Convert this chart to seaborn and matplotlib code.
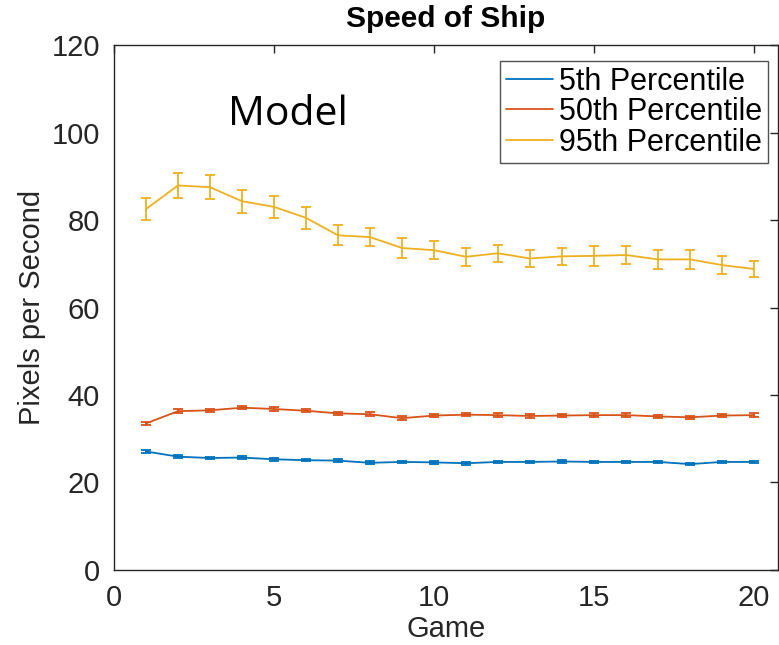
import matplotlib
matplotlib.use("Agg")
import matplotlib.pyplot as plt
import numpy as np
import pandas as pd
import seaborn as sns

games = list(range(1, 21))

p5 = [27.1, 25.9, 25.6, 25.7, 25.3, 25.1, 25.0, 24.5, 24.7, 24.6,
      24.4, 24.7, 24.7, 24.8, 24.7, 24.7, 24.7, 24.2, 24.7, 24.7]
p5_err = [0.3] * 20

p50 = [33.5, 36.3, 36.5, 37.1, 36.8, 36.4, 35.8, 35.6, 34.7, 35.3,
       35.5, 35.4, 35.2, 35.3, 35.4, 35.4, 35.1, 34.9, 35.3, 35.4]
p50_err = [0.4] * 20

p95 = [82.5, 87.9, 87.5, 84.3, 83.0, 80.5, 76.5, 76.1, 73.6, 73.1,
       71.6, 72.4, 71.2, 71.7, 71.8, 72.0, 71.0, 71.0, 69.7, 68.8]
p95_err = [2.6, 2.9, 2.8, 2.6, 2.6, 2.5, 2.3, 2.15, 2.2, 2.1,
           2.1, 2.0, 2.0, 2.0, 2.2, 2.1, 2.1, 2.1, 2.1, 1.9]

labels = ["5th Percentile", "50th Percentile", "95th Percentile"]
colors = ["#0072BD", "#D95319", "#EDB120"]

df = pd.concat([
    pd.DataFrame({"Game": games, "Speed": v, "err": e, "Series": lab})
    for v, e, lab in zip([p5, p50, p95], [p5_err, p50_err, p95_err], labels)
])

sns.set_style("white")
plt.rcParams["font.family"] = ["Liberation Sans", "DejaVu Sans"]

fig = plt.figure(figsize=(7.79, 6.45), dpi=100)
ax = fig.add_axes([0.1463, 0.1163, 0.8524, 0.8139])

sns.lineplot(data=df, x="Game", y="Speed", hue="Series", hue_order=labels,
             palette=colors, linewidth=1.3, ax=ax, errorbar=None)

for lab, col in zip(labels, colors):
    sub = df[df["Series"] == lab]
    ax.errorbar(sub["Game"], sub["Speed"], yerr=sub["err"], fmt="none",
                ecolor=col, elinewidth=1.3, capsize=3.6, capthick=1.3)

ax.set_xlim(0, 20.75)
ax.set_ylim(0, 120)
ax.set_xticks([0, 5, 10, 15, 20])
ax.set_yticks(range(0, 121, 20))
ax.tick_params(direction="in", length=6, width=1, colors="#262626",
               labelsize=21, top=True, right=True, labelcolor="#262626",
               pad=10)
for s in ax.spines.values():
    s.set_color("#262626")
    s.set_linewidth(1.0)

ax.set_xlabel("Game", fontsize=21, color="#262626", labelpad=2)
ax.set_ylabel("Pixels per Second", fontsize=21, color="#262626", labelpad=4)
ax.set_title("Speed of Ship", fontsize=21.5, fontweight="bold", pad=13,
             color="black")

ax.text(5.44, 104.0, "Model", fontsize=29.5, ha="center", va="center",
        family=["Open Sans", "DejaVu Sans"], color="black")

leg = ax.legend(loc="upper right", bbox_to_anchor=(0.985, 0.9695),
                fontsize=22, frameon=True, fancybox=False,
                borderpad=0.18, labelspacing=0.02, handlelength=1.55,
                handletextpad=0.2, borderaxespad=0.0)
leg.get_frame().set_edgecolor("#262626")
leg.get_frame().set_linewidth(1.0)
for line in leg.get_lines():
    line.set_linewidth(1.3)
for t in leg.get_texts():
    t.set_color("black")

fig.savefig("out.png", dpi=100)
